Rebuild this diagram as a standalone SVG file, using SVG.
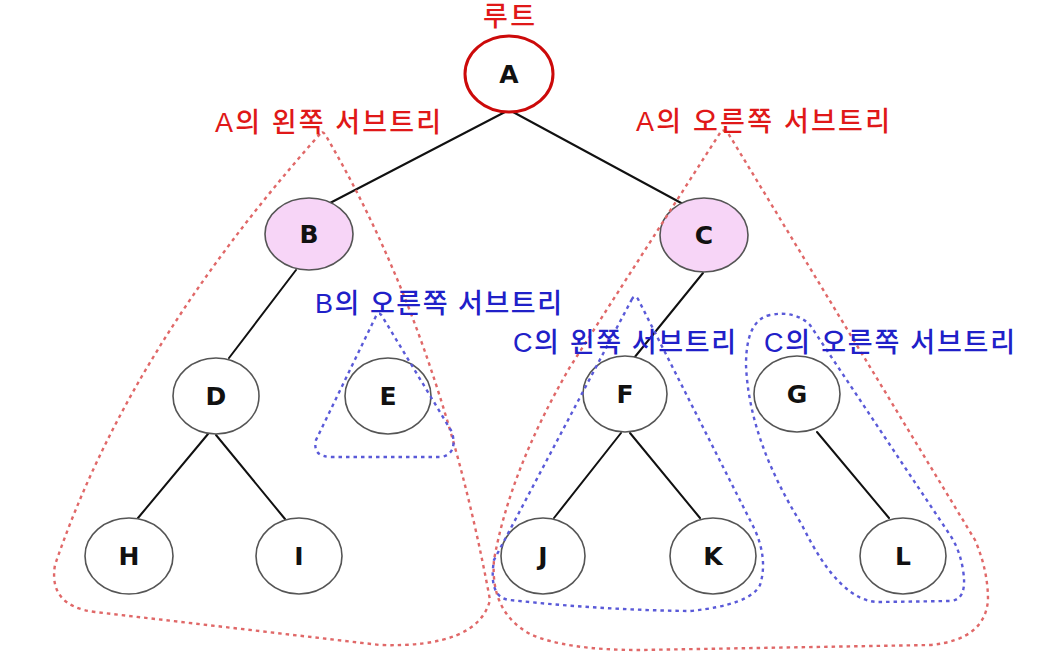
<svg xmlns="http://www.w3.org/2000/svg" width="1060" height="657" viewBox="0 0 1060 657">
<style>
.edge{stroke:#111;stroke-width:2;fill:none;stroke-linecap:round}
.node ellipse{fill:#fff;stroke:#555;stroke-width:1.6}
.node.pink ellipse{fill:#f7d5f7}
.node.root ellipse{stroke:#cc0a0a;stroke-width:3}
.node text{font-family:"DejaVu Sans",sans-serif;font-size:25px;font-weight:bold;fill:#111;text-anchor:middle}
.red{fill:none;stroke:#e06868;stroke-width:2.4;stroke-dasharray:3.5 4}
.blue{fill:none;stroke:#5a5ad8;stroke-width:2.4;stroke-dasharray:3.5 4}
.lbl{font-family:"Liberation Sans","Noto Sans CJK KR",sans-serif;font-size:27px;font-weight:500}
.lr{fill:#e01818}
.lb{fill:#2020c8}
</style>
<rect width="1060" height="657" fill="#fff"/>
<g id="connectors">
<line class="edge" x1="505" y1="112" x2="330" y2="203"/>
<line class="edge" x1="513" y1="112" x2="683" y2="204"/>
<line class="edge" x1="296" y1="270" x2="229" y2="358"/>
<line class="edge" x1="703" y1="273" x2="634" y2="358"/>
<line class="edge" x1="208" y1="434" x2="138" y2="518"/>
<line class="edge" x1="216" y1="435" x2="285" y2="519"/>
<line class="edge" x1="621" y1="433" x2="554" y2="518"/>
<line class="edge" x1="630" y1="433" x2="700" y2="518"/>
<line class="edge" x1="817" y1="432" x2="889" y2="518"/>
</g>
<g id="node-A" class="node root"><ellipse cx="509" cy="74" rx="44" ry="38"/><text x="509" y="83">A</text></g>
<g id="node-B" class="node pink"><ellipse cx="309" cy="234" rx="44" ry="36"/><text x="309" y="243">B</text></g>
<g id="node-C" class="node pink"><ellipse cx="704" cy="235" rx="44" ry="37"/><text x="704" y="244">C</text></g>
<g id="node-D" class="node"><ellipse cx="216" cy="396" rx="43" ry="38"/><text x="216" y="405">D</text></g>
<g id="node-E" class="node"><ellipse cx="388" cy="396" rx="43" ry="38"/><text x="388" y="405">E</text></g>
<g id="node-F" class="node"><ellipse cx="625" cy="394" rx="42" ry="38"/><text x="625" y="403">F</text></g>
<g id="node-G" class="node"><ellipse cx="797" cy="394" rx="43" ry="38"/><text x="797" y="403">G</text></g>
<g id="node-H" class="node"><ellipse cx="129" cy="556" rx="44" ry="38"/><text x="129" y="565">H</text></g>
<g id="node-I" class="node"><ellipse cx="299" cy="556" rx="43" ry="38"/><text x="299" y="565">I</text></g>
<g id="node-J" class="node"><ellipse cx="543" cy="556" rx="42" ry="38"/><text x="543" y="565">J</text></g>
<g id="node-K" class="node"><ellipse cx="713" cy="556" rx="43" ry="38"/><text x="713" y="565">K</text></g>
<g id="node-L" class="node"><ellipse cx="903" cy="556" rx="43" ry="38"/><text x="903" y="565">L</text></g>
<g id="subtree-outlines">
<path class="red" d="M320,134 Q128,350 55,565 Q48,606 95,612 L380,645 Q478,648 490,600 Q440,330 326,136 Q323,130 320,134 Z"/>
<path class="red" d="M720,133 L570,367 Q510,470 494,560 Q490,612 530,634 Q565,650 640,650 L930,645 Q985,640 988,600 Q988,570 975,540 L728,133 Q724,128 720,133 Z"/>
<path class="blue" d="M376,316 L316,440 Q312,457 332,457 L440,457 Q458,455 452,432 L382,316 Q379,311 376,316 Z"/>
<path class="blue" d="M632,299 L494,560 Q488,598 510,600 Q600,610 690,611 Q750,605 760,585 Q768,560 755,530 L638,299 Q635,294 632,299 Z"/>
<path class="blue" d="M770,315 Q746,320 746,365 Q749,440 802,525 Q840,603 880,602 L950,601 Q968,600 963,570 Q960,550 950,535 L810,325 Q795,310 770,315 Z"/>
</g>
<g id="labels">
<text class="lbl lr" x="483" y="26" textLength="52">루트</text>
<text class="lbl lr" x="215" y="132" textLength="226">A의 왼쪽 서브트리</text>
<text class="lbl lr" x="636" y="131" textLength="254">A의 오른쪽 서브트리</text>
<text class="lbl lb" x="315" y="313" textLength="247">B의 오른쪽 서브트리</text>
<text class="lbl lb" x="513" y="352" textLength="223">C의 왼쪽 서브트리</text>
<text class="lbl lb" x="764" y="352" textLength="251">C의 오른쪽 서브트리</text>
</g>
</svg>
